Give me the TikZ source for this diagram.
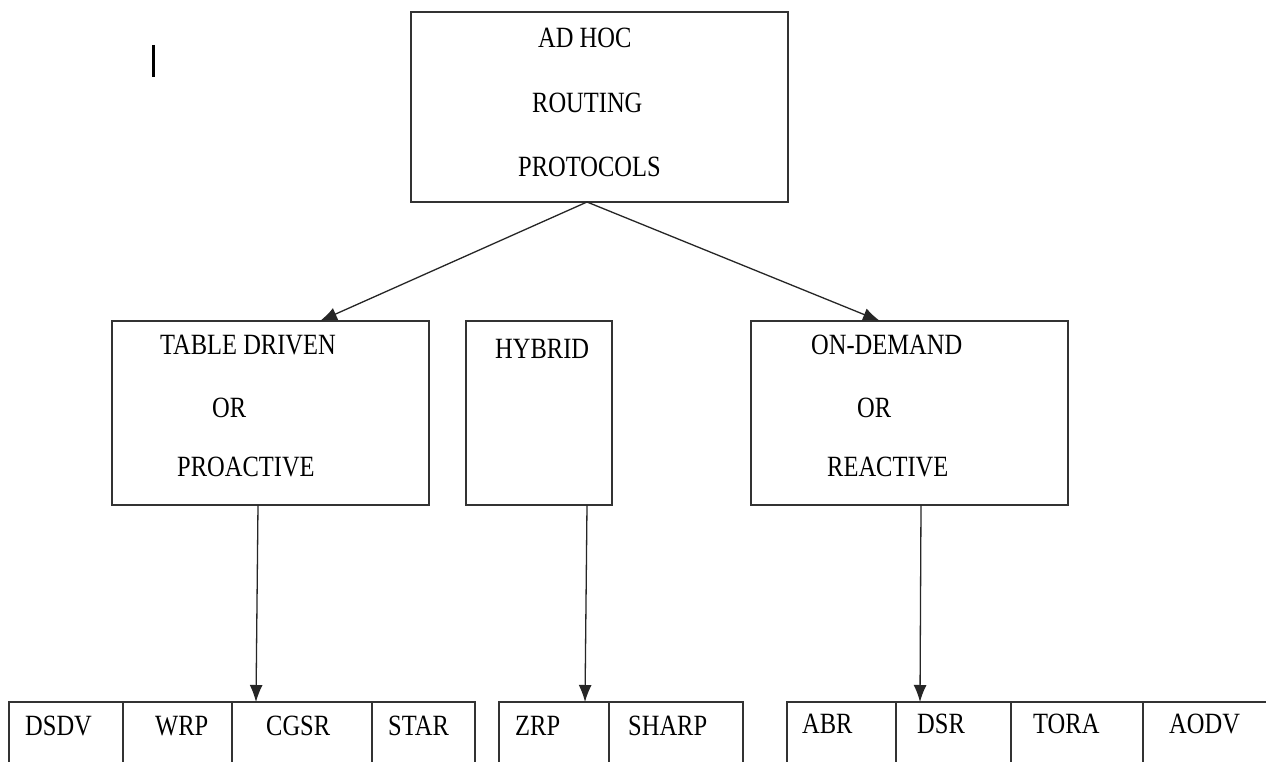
\documentclass[tikz,border=0pt]{standalone}
\usepackage{graphicx}
\usepackage{fontspec}
\setmainfont{Liberation Serif}
\usetikzlibrary{arrows.meta}
\newcommand\tallt[1]{\scalebox{1}[1.2]{#1}}
\begin{document}
\begin{tikzpicture}[x=1pt,y=-1pt,
  box/.style={draw=black!80, line width=1.6pt, rectangle, inner sep=0pt, outer sep=0pt, anchor=north west},
  cell/.style={box, minimum height=90pt},
  lbl/.style={anchor=base west, inner sep=0pt, font=\fontsize{24.5}{30}\selectfont},
  conn/.style={draw=black!85, line width=1.3pt, -{Latex[length=17pt,width=13pt]}}]
\clip (0,0) rectangle (1266,762);
\fill[white] (0,0) rectangle (1266,762);
% stray cursor mark
\draw[line width=3pt] (153,45) -- (153,77);
% top box
\node[box, minimum width=377pt, minimum height=190pt] (top) at (411,12) {};
\node[lbl] (t1) at (538,48) {\tallt{AD HOC}};
\node[lbl] (t2) at (532,113) {\tallt{ROUTING}};
\node[lbl] (t3) at (518,177) {\tallt{PROTOCOLS}};
% middle boxes
\node[box, minimum width=317pt, minimum height=184pt] (pro) at (112,321) {};
\node[lbl] (p1) at (160,354) {\tallt{TABLE DRIVEN}};
\node[lbl] (p2) at (212,417) {\tallt{OR}};
\node[lbl] (p3) at (177,476) {\tallt{PROACTIVE}};
\node[box, minimum width=146pt, minimum height=184pt] (hyb) at (466,321) {};
\node[lbl] (h1) at (495,358) {\tallt{HYBRID}};
\node[box, minimum width=317pt, minimum height=184pt] (rea) at (751,321) {};
\node[lbl] (r1) at (811,354) {\tallt{ON-DEMAND}};
\node[lbl] (r2) at (857,417) {\tallt{OR}};
\node[lbl] (r3) at (827,476) {\tallt{REACTIVE}};
% bottom tables
\node[cell, minimum width=114pt] (dsdv) at (9,702) {};
\node[cell, minimum width=109pt] (wrp) at (123,702) {};
\node[cell, minimum width=140pt] (cgsr) at (232,702) {};
\node[cell, minimum width=103pt] (star) at (372,702) {};
\node[lbl] at (25,735) {\tallt{DSDV}};
\node[lbl] at (155,735) {\tallt{WRP}};
\node[lbl] at (266,735) {\tallt{CGSR}};
\node[lbl] at (388,735) {\tallt{STAR}};
\node[cell, minimum width=110pt] (zrp) at (499,702) {};
\node[cell, minimum width=134pt] (sharp) at (609,702) {};
\node[lbl] at (515,735) {\tallt{ZRP}};
\node[lbl] at (628,735) {\tallt{SHARP}};
\node[cell, minimum width=109pt] (abr) at (787,702) {};
\node[cell, minimum width=115pt] (dsr) at (896,702) {};
\node[cell, minimum width=132pt] (tora) at (1011,702) {};
\node[cell, minimum width=160pt] (aodv) at (1143,702) {};
\node[lbl] at (802,733) {\tallt{ABR}};
\node[lbl] at (917,733) {\tallt{DSR}};
\node[lbl] at (1033,733) {\tallt{TORA}};
\node[lbl] at (1169,733) {\tallt{AODV}};
% connector end points
\coordinate (topS) at (587,202);
\coordinate (proN) at (320,321);
\coordinate (reaN) at (880,321);
\coordinate (proS) at (258,505);
\coordinate (hybS) at (587,505);
\coordinate (reaS) at (921,505);
\coordinate (cgsrN) at (256,702);
\coordinate (zrpN) at (585,702);
\coordinate (dsrN) at (920,702);
\draw[conn] (topS) -- (proN);
\draw[conn] (topS) -- (reaN);
\draw[conn] (proS) -- (cgsrN);
\draw[conn] (hybS) -- (zrpN);
\draw[conn] (reaS) -- (dsrN);
\end{tikzpicture}
\end{document}
